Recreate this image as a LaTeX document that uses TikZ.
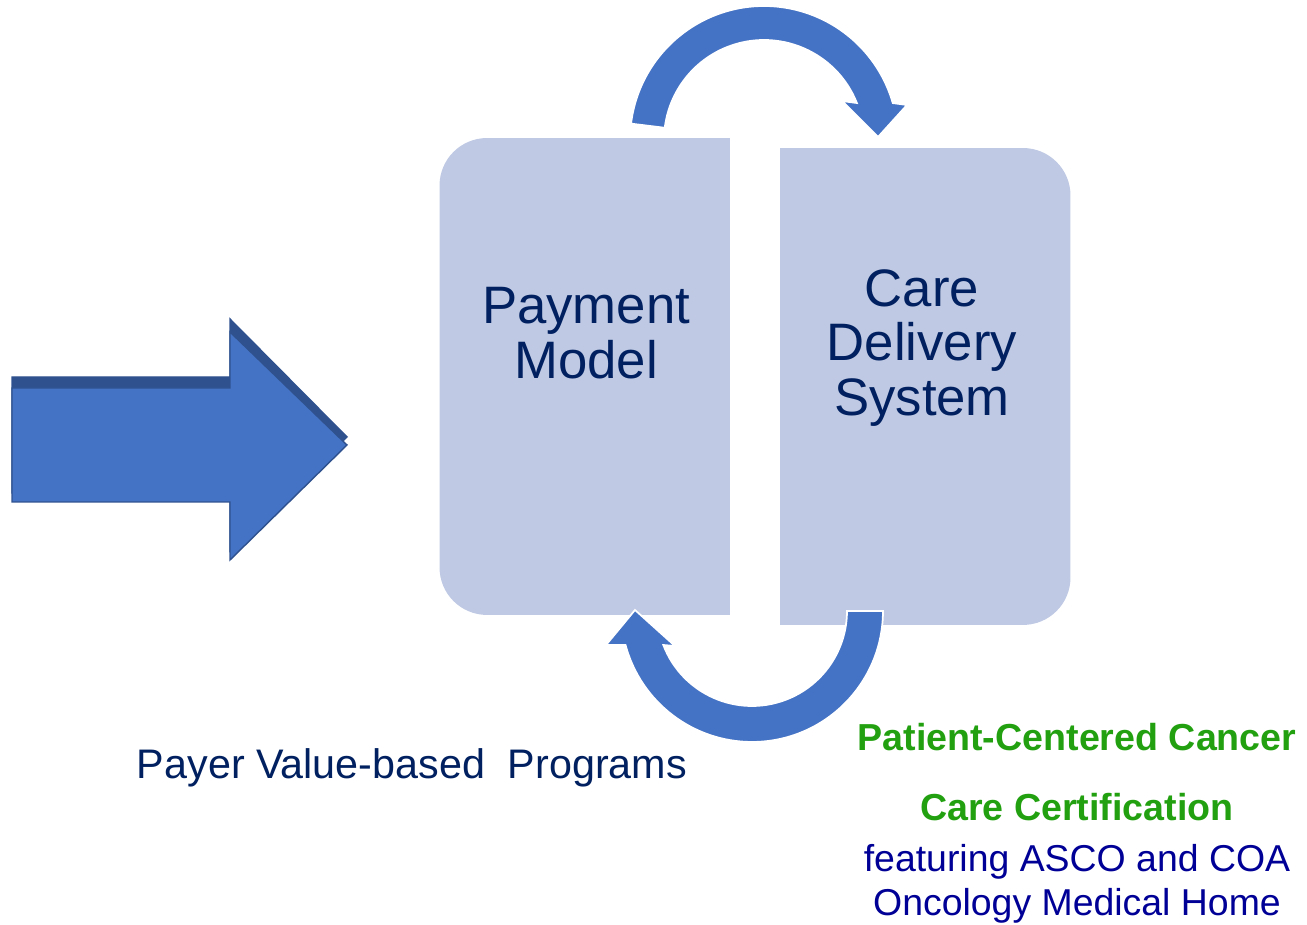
\documentclass[tikz,border=0pt]{standalone}
\usepackage{fontspec}
\setmainfont{Liberation Sans}
\definecolor{panelblue}{RGB}{191,201,227}
\definecolor{loopblue}{RGB}{68,114,196}
\definecolor{edgeblue}{RGB}{47,82,143}
\definecolor{navytext}{RGB}{0,32,96}
\definecolor{certgreen}{RGB}{34,160,16}
\definecolor{featblue}{RGB}{0,0,150}
\begin{document}
\begin{tikzpicture}[x=0.02cm, y=0.02cm,
    panel/.style={rectangle, fill=panelblue, rounded corners=0.95cm, minimum width=5.8cm, minimum height=9.54cm, inner sep=0pt},
    paneltext/.style={align=center, inner sep=0pt, text=navytext, font=\fontsize{30}{31}\selectfont},
    looparrow/.style={fill=loopblue, draw=white, line width=1pt},
    bigarrow/.style={fill=loopblue, draw=edgeblue, line width=0.8pt},
    certtext/.style={anchor=base, inner sep=0pt, text=certgreen, font=\fontsize{21.4}{24}\selectfont\bfseries},
    feattext/.style={anchor=base, inner sep=0pt, text=featblue, font=\fontsize{21.3}{24}\selectfont}
]
    \useasboundingbox (0,0) rectangle (1307,925);

    % Input arrow with its shadow
    \filldraw[bigarrow, fill=edgeblue] (12,548) -- (230,548) -- (230,606) -- (347,488) -- (230,374) -- (230,432) -- (12,432) -- cycle;
    \filldraw[bigarrow] (12,537) -- (230,537) -- (230,593) -- (347,480) -- (230,365) -- (230,423) -- (12,423) -- cycle;

    % The two panels
    \node[panel] (pay) at (584.5,548.5) {};
    \fill[panelblue] (pay.north) rectangle (pay.south east);
    \node[paneltext] (paylbl) at (586,592) {Payment\\Model};

    \node[panel] (care) at (925.5,538.5) {};
    \fill[panelblue] (care.north west) rectangle (care.south);
    \node[paneltext] (carelbl) at (922,577) {Care\\Delivery\\System};

    % Loop arrows
    \filldraw[looparrow] (764,785) ++(173:2.68cm) arc[start angle=173, end angle=16, radius=2.68cm]
        -- (907,820) -- (878,788) -- (842,824)
        -- ([shift={(21.7:2cm)}]764,785) arc[start angle=21.7, end angle=173, radius=2cm] -- cycle;
    \filldraw[looparrow] (752,314) ++(0:2.62cm) arc[start angle=0, end angle=-165, radius=2.62cm]
        -- (606,280) -- (635,315) -- (675,279)
        -- ([shift={(-159:1.9cm)}]752,314) arc[start angle=-159, end angle=0, radius=1.9cm] -- cycle;

    % Labels below
    \node[anchor=base, inner sep=0pt, text=navytext, font=\fontsize{23.5}{27}\selectfont] (payer) at (412,146) {Payer Value-based\ \ Programs};
    \node[certtext] (cert1) at (1077,174) {Patient-Centered Cancer};
    \node[certtext] (cert2) at (1077,104) {Care Certification};
    \node[feattext] (feat1) at (1077,53) {featuring ASCO and COA};
    \node[feattext] (feat2) at (1077,9) {Oncology Medical Home};
\end{tikzpicture}
\end{document}
